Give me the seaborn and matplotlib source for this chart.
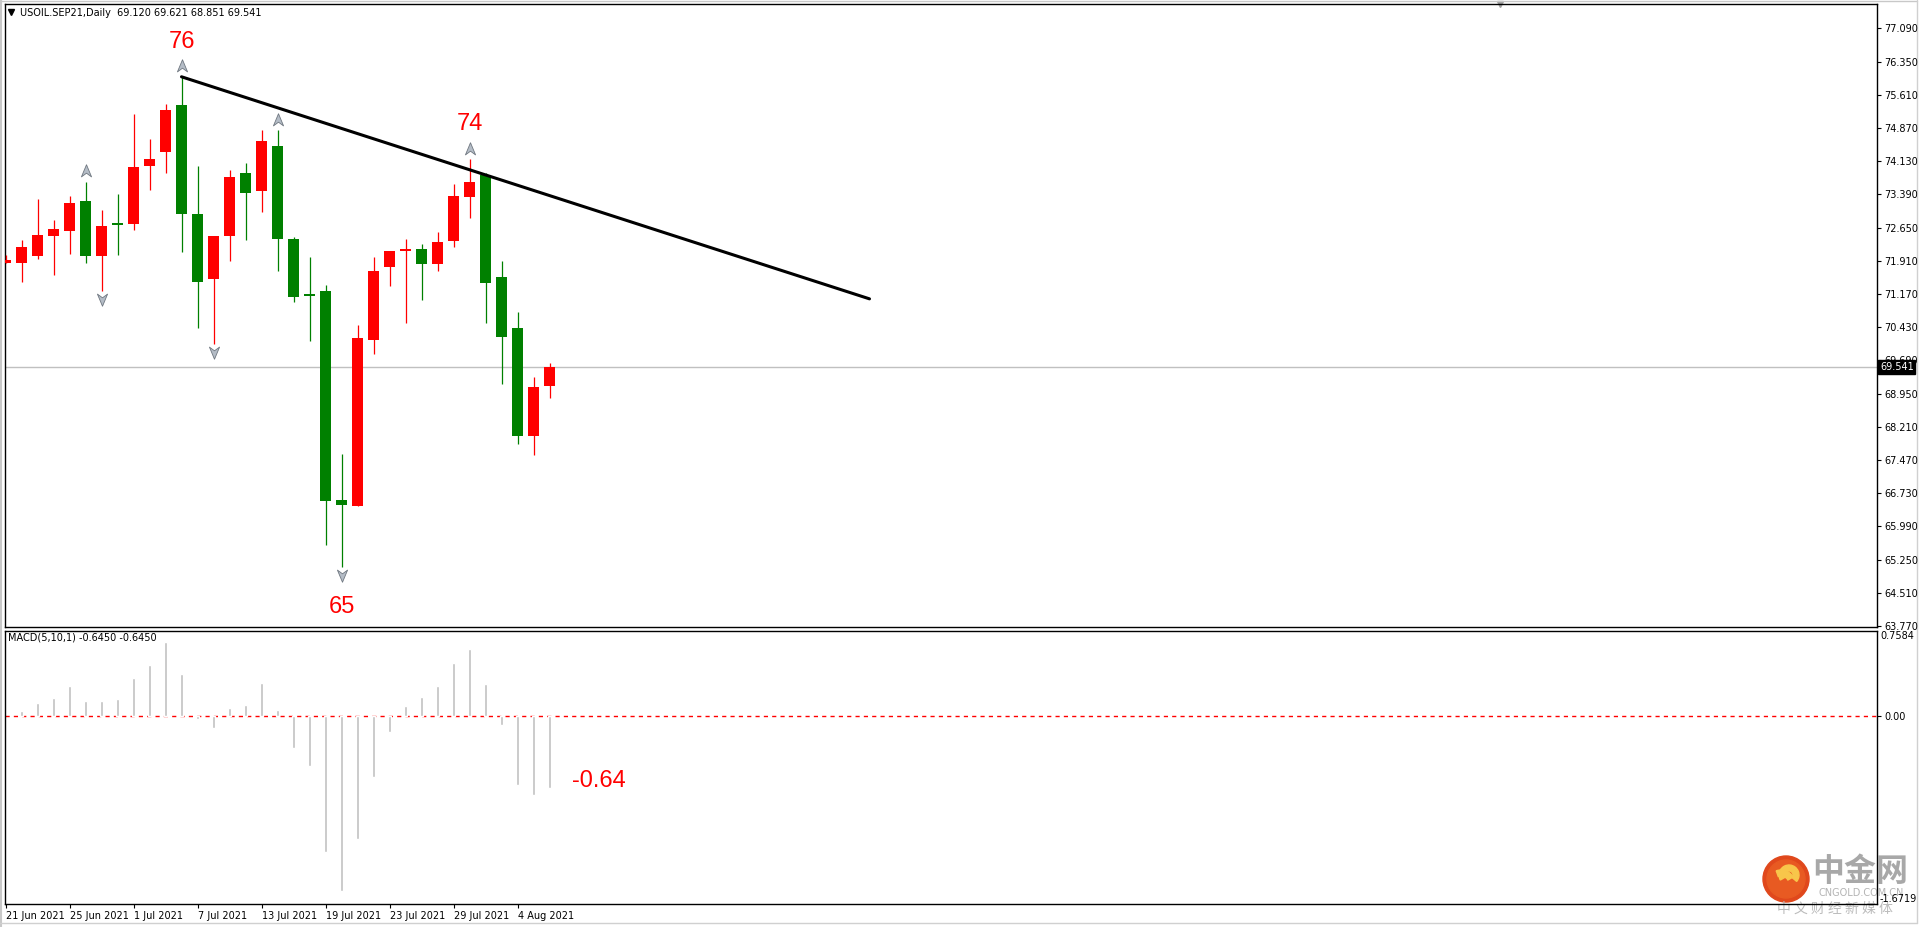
#!/usr/bin/env python3
"""
USOIL.SEP21 daily - chandeliers + MACD(5,10,1), style MT4
"""

import numpy as np
import pandas as pd
import matplotlib
matplotlib.use('Agg')
import matplotlib.pyplot as plt
import matplotlib.transforms as mtransforms
from matplotlib.path import Path
from matplotlib.patches import Circle, Wedge
import seaborn as sns

# ---- données ----
dates = ['2021-06-21', '2021-06-22', '2021-06-23', '2021-06-24', '2021-06-25',
         '2021-06-28', '2021-06-29', '2021-06-30', '2021-07-01', '2021-07-02',
         '2021-07-05', '2021-07-06', '2021-07-07', '2021-07-08', '2021-07-09',
         '2021-07-12', '2021-07-13', '2021-07-14', '2021-07-15', '2021-07-16',
         '2021-07-19', '2021-07-20', '2021-07-21', '2021-07-22', '2021-07-23',
         '2021-07-26', '2021-07-27', '2021-07-28', '2021-07-29', '2021-07-30',
         '2021-08-02', '2021-08-03', '2021-08-04', '2021-08-05', '2021-08-06']
opens = [71.87, 71.87, 72.02, 72.47, 72.58, 73.24, 72.02, 72.72, 72.73, 74.02,
         74.34, 75.38, 72.95, 71.50, 72.47, 73.87, 73.46, 74.47, 72.39, 71.14,
         71.24, 66.58, 66.45, 70.15, 71.76, 72.12, 72.17, 71.84, 72.35, 73.34,
         73.82, 71.55, 70.41, 68.01, 69.12]
highs = [72.03, 72.37, 73.29, 72.82, 73.35, 73.67, 73.04, 73.40, 75.18, 74.62,
         75.40, 76.01, 74.02, 72.46, 73.93, 74.09, 74.82, 74.82, 72.44, 71.99,
         71.36, 67.60, 70.48, 71.99, 72.13, 72.39, 72.28, 72.55, 73.62, 74.18,
         73.86, 71.90, 70.77, 69.32, 69.621]
lows = [71.85, 71.44, 71.95, 71.59, 72.06, 71.87, 71.24, 72.04, 72.60, 73.49,
        73.87, 72.10, 70.40, 70.05, 71.90, 72.37, 73.00, 71.68, 70.98, 70.13,
        65.58, 65.08, 66.45, 69.82, 71.35, 70.53, 71.04, 71.67, 72.22, 72.86,
        70.53, 69.17, 67.83, 67.59, 68.851]
closes = [71.90, 72.22, 72.48, 72.62, 73.20, 72.02, 72.68, 72.70, 74.00, 74.18,
          75.27, 72.95, 71.44, 72.46, 73.78, 73.43, 74.58, 72.39, 71.11, 71.12,
          66.56, 66.47, 70.19, 71.68, 72.13, 72.14, 71.84, 72.33, 73.35, 73.67,
          71.42, 70.22, 68.01, 69.10, 69.541]

macd_bars = list(range(1, 35))
macd_vals = [0.048, 0.119, 0.155, 0.267, 0.137, 0.137, 0.152, 0.339, 0.452, 0.657,
             0.374, -0.030, -0.107, 0.074, 0.101, 0.297, 0.056, -0.288, -0.449, -1.207,
             -1.554, -1.097, -0.547, -0.146, 0.089, 0.169, 0.270, 0.467, 0.591, 0.288,
             -0.080, -0.612, -0.701, -0.645]

date_tick_bars = [0, 4, 8, 12, 16, 20, 24, 28, 32]
date_tick_labels = ['21 Jun 2021', '25 Jun 2021', '1 Jul 2021', '7 Jul 2021', '13 Jul 2021',
                    '19 Jul 2021', '23 Jul 2021', '29 Jul 2021', '4 Aug 2021']
price_ticks = [63.770, 64.510, 65.250, 65.990, 66.730, 67.470, 68.210, 68.950, 69.690,
               70.430, 71.170, 71.910, 72.650, 73.390, 74.130, 74.870, 75.610, 76.350, 77.090]

fractal_up = [5, 11, 17, 29]
fractal_down = [6, 13, 21]
trend_x = [11, 54]
trend_y = [76.01, 71.06]
last_price = 69.541
macd_max, macd_min = 0.7584, -1.6719
peak_marks = {'76': 11, '74': 29}
trough_marks = {'65': 21}

df = pd.DataFrame({'date': pd.to_datetime(dates), 'open': opens, 'high': highs,
                   'low': lows, 'close': closes})
df['bar'] = np.arange(len(df))
macd_df = pd.DataFrame({'bar': macd_bars, 'macd': macd_vals})

# ---- style ----
sns.set_theme(style='white')
plt.rcParams['font.family'] = ['DejaVu Sans', 'Noto Sans CJK SC']
plt.rcParams['axes.edgecolor'] = 'black'
plt.rcParams['axes.linewidth'] = 1.0

RED = '#ff0000'
GREEN = '#008000'
W, H = 1920, 927

fig = plt.figure(figsize=(19.2, 9.27), dpi=100)
fig.patch.set_facecolor('white')

left, right = 4.5, 1877
ax = fig.add_axes([left / W, 1 - 627 / H, (right - left) / W, (627 - 4) / H], zorder=5)
ax2 = fig.add_axes([left / W, 1 - 904 / H, (right - left) / W, (904 - 630.6) / H], zorder=5)
ov = fig.add_axes([0, 0, 1, 1], zorder=0)
ov.set_xlim(0, W)
ov.set_ylim(H, 0)
ov.axis('off')
for a in (ax, ax2):
    a.set_facecolor('none')
    for s in a.spines.values():
        s.set_color('black')
        s.set_linewidth(1.0)

xlim = (-1 / 16, (right - 5.5) / 16)

# ---- chandeliers (rouge = hausse, vert = baisse) ----
up = df['close'] >= df['open']
cols = np.where(up, RED, GREEN)
ax.vlines(df['bar'], df['low'], df['high'], colors=cols, lw=0.9, zorder=3)
body_lo = df[['open', 'close']].min(axis=1)
body_h = (df['close'] - df['open']).abs().clip(lower=0.05)
ax.bar(df['bar'], body_h, bottom=body_lo, width=0.69, color=cols, edgecolor=cols,
       linewidth=0, zorder=4)

# ligne de prix courante
ax.axhline(last_price, color='#c0c0c0', lw=1, zorder=1)

# ligne de tendance
sns.lineplot(x=trend_x, y=trend_y, color='black', lw=2.2, ax=ax, legend=False, zorder=6)

# fractales (flèches grises)
arr_up = Path([(0, 1), (0.75, -0.8), (0, -0.25), (-0.75, -0.8), (0, 1)])
arr_dn = Path([(0, -1), (0.75, 0.8), (0, 0.25), (-0.75, 0.8), (0, -1)])
ax.scatter(fractal_up, [highs[i] + 0.23 for i in fractal_up], marker=arr_up, s=95,
           facecolor='#b4bcc6', edgecolor='#6f7780', linewidths=0.6, zorder=7)
ax.scatter(fractal_down, [lows[i] - 0.18 for i in fractal_down], marker=arr_dn, s=95,
           facecolor='#b4bcc6', edgecolor='#6f7780', linewidths=0.6, zorder=7)

for txt, i in peak_marks.items():
    ax.text(i, highs[i] + 0.77, txt, color=RED, fontsize=17, ha='center', va='center',
            family='Liberation Sans')
for txt, i in trough_marks.items():
    ax.text(i, lows[i] - 0.88, txt, color=RED, fontsize=17, ha='center', va='center',
            family='Liberation Sans')

ax.set_xlim(*xlim)
ax.set_ylim(63.746, 77.632)
ax.set_xticks([])
ax.yaxis.tick_right()
ax.set_yticks(price_ticks)
ax.set_yticklabels([f'{v:.3f}' for v in price_ticks])
ax.tick_params(axis='y', direction='out', length=3, width=0.8, labelsize=7, pad=2,
               colors='black', right=True, left=False)
ax.set_xlabel('')
ax.set_ylabel('')

blend = mtransforms.blended_transform_factory(ax.transAxes, ax.transData)
ax.text(1.0 + 3 / (right - left), last_price, f'{last_price:.3f}', transform=blend,
        ha='left', va='center', color='white', fontsize=7, zorder=10,
        bbox=dict(facecolor='black', edgecolor='black', pad=1.2))

# ---- MACD ----
sns.barplot(data=macd_df, x='bar', y='macd', native_scale=True, width=0.14,
            color='#c0c0c0', saturation=1, errorbar=None, ax=ax2, zorder=3)
ax2.axhline(0, color='red', lw=1, ls=(0, (3, 3)), zorder=2)
ax2.set_xlim(*xlim)
ax2.set_ylim(macd_min, macd_max)
ax2.set_xlabel('')
ax2.set_ylabel('')
ax2.set_xticks(date_tick_bars)
ax2.set_xticklabels(date_tick_labels, ha='left')
ax2.tick_params(axis='x', direction='out', length=3, width=0.8, labelsize=7, pad=2,
                colors='black', bottom=True)
ax2.yaxis.tick_right()
ax2.set_yticks([0])
ax2.set_yticklabels(['0.00'])
ax2.tick_params(axis='y', direction='out', length=3, width=0.8, labelsize=7, pad=2,
                colors='black', right=True, left=False)
blend2 = mtransforms.blended_transform_factory(ax2.transAxes, ax2.transData)
ax2.text(1.0 + 3 / (right - left), macd_max, f'{macd_max:.4f}', transform=blend2,
         ha='left', va='top', fontsize=7, color='black')
ax2.text(1.0 + 3 / (right - left), macd_min, f'{macd_min:.4f}', transform=blend2,
         ha='left', va='bottom', fontsize=7, color='black')
ax2.text(macd_bars[-1] + 3.1, macd_vals[-1] + 0.07, '-0.64', color=RED, fontsize=17,
         ha='center', va='center', family='Liberation Sans')

# ---- en-têtes ----
fig.text(20 / W, 1 - 13 / H, 'USOIL.SEP21,Daily  69.120 69.621 68.851 69.541',
         fontsize=7, va='center', ha='left', color='black', zorder=20)
fig.text(8 / W, 1 - 638 / H, 'MACD(5,10,1) -0.6450 -0.6450', fontsize=7,
         va='center', ha='left', color='black', zorder=20)
ov.plot([11], [12], marker='v', color='black', ms=4.5)
ov.plot([1500], [4], marker='v', color='#a0a0a0', ms=4)

# cadre extérieur
ov.plot([1.2, 1.2], [0, H], color='#c8c8c8', lw=1.5)
ov.plot([0, 1917], [0.8, 0.8], color='#c8c8c8', lw=1)
ov.plot([1917, 1917], [0, 923], color='#d0d0d0', lw=1)
ov.plot([0, 1917], [923, 923], color='#d0d0d0', lw=1)

# filigrane cngold
ov.add_patch(Circle((1786, 879), 23, color='#e0481c', zorder=2))
ov.add_patch(Circle((1786, 879), 19, color='#e85a22', zorder=2))
ov.add_patch(Wedge((1789, 875), 10, 150, 40, width=6, color='#f8c64a', zorder=3))
ov.add_patch(Wedge((1781, 884), 14, 250, 330, width=6, color='#f8c64a', zorder=3))
ov.text(1860, 872, '中金网', fontsize=23, fontweight='bold', color='#a8a8a8',
        ha='center', va='center', family=['Noto Sans CJK SC'])
ov.text(1861, 893, 'CNGOLD.COM.CN', fontsize=7, color='#b4b4b4', ha='center', va='center')
ov.text(1835, 909, '中 文 财 经 新 媒 体', fontsize=10, color='#bcbcbc',
        ha='center', va='center', family=['Noto Sans CJK SC'])

plt.savefig('out.png', dpi=100)
plt.close()
